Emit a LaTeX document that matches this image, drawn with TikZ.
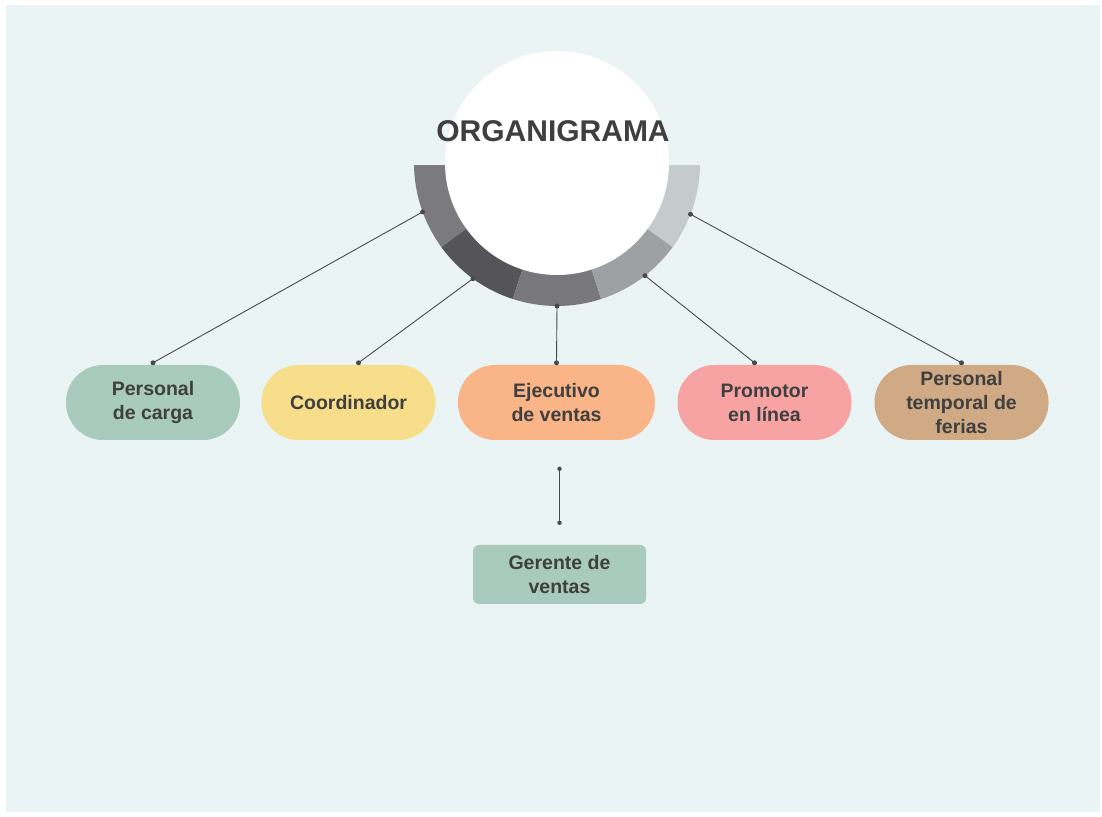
\documentclass[tikz,border=0pt]{standalone}
\usepackage{fontspec}
\setmainfont{Liberation Sans}
\usetikzlibrary{positioning}

\definecolor{fondo}{HTML}{EAF4F4}
\definecolor{texto}{HTML}{3F3F3F}
\definecolor{linea}{HTML}{4A4A4A}
\definecolor{gris1}{HTML}{7B7A7E}
\definecolor{gris2}{HTML}{555459}
\definecolor{gris3}{HTML}{78777B}
\definecolor{gris4}{HTML}{9EA1A4}
\definecolor{gris5}{HTML}{C5CACC}
\definecolor{verde}{HTML}{A8CBBD}
\definecolor{amarillo}{HTML}{F7DE8A}
\definecolor{naranja}{HTML}{F9B487}
\definecolor{rosa}{HTML}{F7A3A3}
\definecolor{cafe}{HTML}{CFAA84}

\tikzset{
  caja/.style={fill=#1, rounded corners=37pt, minimum width=174pt, minimum height=75pt,
    align=center, inner sep=0pt, text=texto, font=\bfseries\fontsize{19.5}{24}\selectfont},
  conector/.style={draw=linea, line width=0.9pt}
}

\begin{document}
\begin{tikzpicture}[x=1pt,y=1pt]
	\useasboundingbox (0,0) rectangle (1102,816);
	\fill[white] (0,0) rectangle (1102,816);
	\fill[fondo] (6,4) rectangle (1100,811);
% anillo
	\coordinate (centro) at (557,653);
	\begin{scope}
		\clip (400,650) rectangle (720,490);
		\foreach \a/\c in {180/gris1,216/gris2,252/gris3,288/gris4,324/gris5}
			\fill[\c] (centro) -- ++(\a:143) arc[start angle=\a, delta angle=36, radius=143] -- cycle;
	\end{scope}
	\fill[white] (centro) circle (112);
	\node[text=texto, font=\bfseries\fontsize{30}{36}\selectfont] (titulo) at (553,685) {ORGANIGRAMA};
% cajas
	\node[caja=verde] (carga) at (153,413.5) {Personal\\de carga};
	\node[caja=amarillo] (coord) at (348.5,413.5) {Coordinador};
	\node[caja=naranja, minimum width=197pt] (ejec) at (556.5,413.5) {Ejecutivo\\de ventas};
	\node[caja=rosa] (promo) at (764.5,413.5) {Promotor\\en línea};
	\node[caja=cafe] (ferias) at (961.5,413.5) {Personal\\temporal de\\ferias};
	\node[caja=verde, rounded corners=6pt, minimum width=173pt, minimum height=59pt] (gerente) at (559.5,241.5) {Gerente de\\ventas};
% conectores
	\foreach \ang/\caja/\dx in {200/carga/0, 234/coord/10, 270/ejec/0, 308/promo/-10, 339/ferias/0} {
		\path (centro) ++(\ang:143) coordinate (s);
		\coordinate (t) at ([xshift=\dx pt, yshift=2pt]\caja.north);
		\draw[conector] (s) -- (t);
		\fill[linea] (s) circle (2.5) (t) circle (2.5);
	}
	\coordinate (v1) at ([yshift=22pt]gerente.north);
	\coordinate (v2) at ([yshift=76pt]gerente.north);
	\draw[conector] (v2) -- (v1);
	\fill[linea] (v1) circle (2.2) (v2) circle (2.2);
\end{tikzpicture}
\end{document}
